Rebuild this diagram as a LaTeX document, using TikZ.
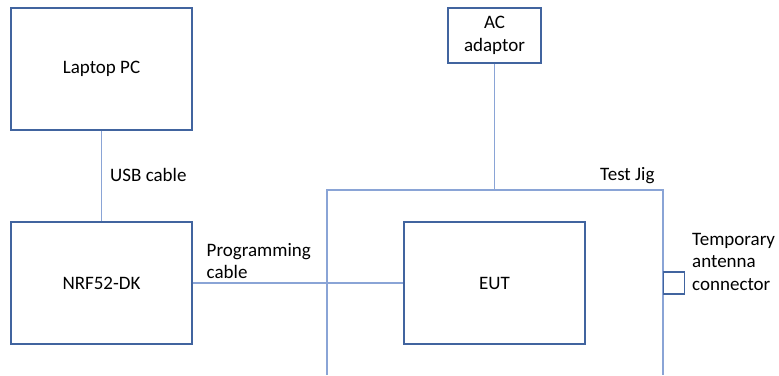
\documentclass[tikz,border=0pt]{standalone}
\usepackage{fontspec}
\setmainfont{Carlito}
\definecolor{boxblue}{HTML}{41649F}
\definecolor{lineblue}{HTML}{8AA4D6}
\begin{document}
\begin{tikzpicture}[x=1pt,y=-1pt,
  blk/.style={draw=boxblue,line width=1.3pt,inner sep=0pt,minimum width=#1},
  wire/.style={draw=lineblue,line width=1.3pt},
  lbl/.style={inner sep=0pt,font=\fontsize{19}{22.5}\selectfont,align=left},
  every node/.append style={font=\fontsize{19}{23.5}\selectfont}]
\useasboundingbox (0,0) rectangle (779,375);
\node[blk=181pt,minimum height=122pt] (pc) at (101.5,69) {Laptop PC};
\node[blk=181pt,minimum height=122pt] (nrf) at (101.5,283) {NRF52-DK};
\node[blk=93pt,minimum height=55pt,align=center] (ac) at (494.5,35.5) {AC\\adaptor};
\node[blk=181pt,minimum height=122pt] (eut) at (494.5,283) {EUT};
\coordinate (jbl) at (327,375);
\coordinate (jtl) at (327,190);
\coordinate (jtr) at (663,190);
\coordinate (jbr) at (663,375);
\draw[wire] (jbl) -- (jtl) -- (jtr) -- (jbr);
\node[blk=21pt,minimum height=22pt,anchor=west] (ant) at (663,283) {};
\draw[wire] (pc.south) -- (nrf.north);
\draw[wire] (nrf.east) -- (eut.west);
\draw[wire] (ac.south) -- (ac.south |- jtl);
\node[lbl,anchor=base west] (usb) at (110,181) {USB cable};
\node[lbl,anchor=base west] (prog) at (206.5,278.5) {Programming\\cable};
\node[lbl,anchor=base west] (jig) at (600,180) {Test Jig};
\node[lbl,anchor=base west] (tmp) at (692,290) {Temporary\\antenna\\connector};
\end{tikzpicture}
\end{document}
